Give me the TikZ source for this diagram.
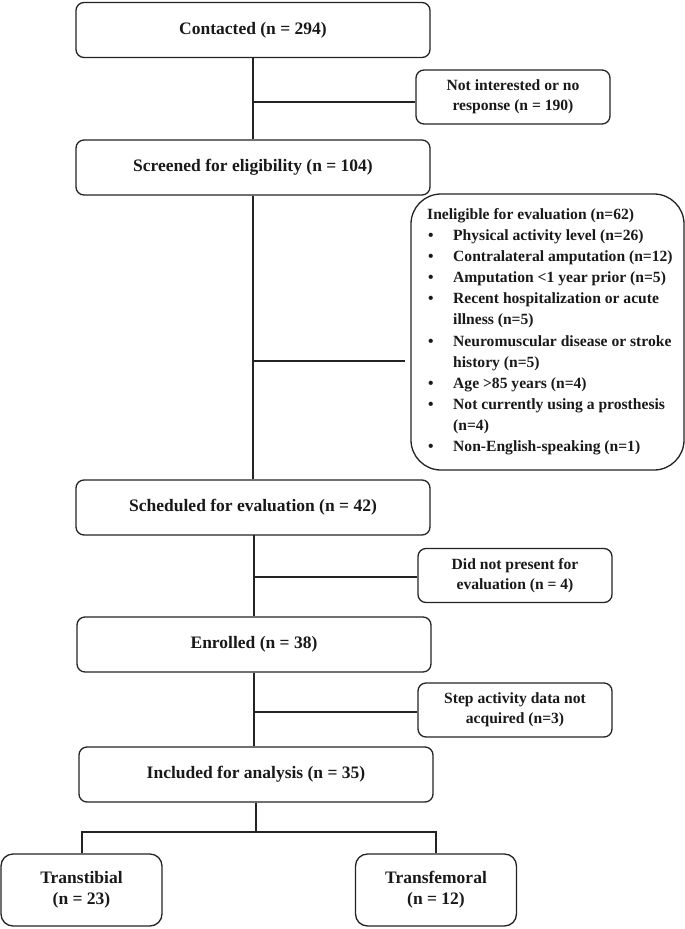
\documentclass[tikz,border=0pt]{standalone}
\usepackage{fontspec}
\setmainfont{Liberation Serif}
\definecolor{ln}{RGB}{35,35,35}
\definecolor{txt}{RGB}{25,25,25}
\newcommand{\bul}{\makebox[26bp][l]{\hspace{1bp}\textbullet}}
\newcommand{\ind}{\hspace*{26bp}}
\begin{document}
\begin{tikzpicture}[x=1bp,y=-1bp,
  every node/.style={text=txt},
  bigfont/.style={font=\fontsize{17.5bp}{21bp}\selectfont\bfseries},
  smallfont/.style={font=\fontsize{15.6bp}{20bp}\selectfont\bfseries},
  box/.style={draw=ln, line width=1.3bp, rounded corners=8bp, align=center, inner sep=0pt},
  mainbox/.style={box, bigfont, minimum width=354bp, minimum height=55bp},
  sidebox/.style={box, smallfont, minimum width=194bp, minimum height=54bp},
  endbox/.style={box, bigfont, rounded corners=12bp, minimum width=161bp, minimum height=72bp},
  conn/.style={draw=ln, line width=2bp}]
\useasboundingbox (0,0) rectangle (685,929);

% main column
\node[mainbox] (contacted) at (253,30) {Contacted (n = 294)};
\node[mainbox] (screened) at (253,167.5) {Screened for eligibility (n = 104)};
\node[mainbox] (scheduled) at (253,507.5) {Scheduled for evaluation (n = 42)};
\node[mainbox] (enrolled) at (254,644.5) {Enrolled (n = 38)};
\node[mainbox] (included) at (256,774.5) {Included for analysis (n = 35)};

% side boxes
\node[sidebox] (notint) at (513,97) {Not interested or no\\response (n = 190)};
\node[sidebox] (nopresent) at (515,575.5) {Did not present for\\evaluation (n = 4)};
\node[sidebox] (nodata) at (515,710) {Step activity data not\\acquired (n=3)};

\node[box, rounded corners=30bp, minimum width=273bp, minimum height=276bp] (inelig) at (547.5,332) {};
\node[font=\fontsize{15.6bp}{21.15bp}\selectfont\bfseries, align=left, anchor=north west, inner sep=0pt] (ineligtext) at (427,208)
{Ineligible for evaluation (n=62)\\
\bul Physical activity level (n=26)\\
\bul Contralateral amputation (n=12)\\
\bul Amputation <1 year prior (n=5)\\
\bul Recent hospitalization or acute\\
\ind illness (n=5)\\
\bul Neuromuscular disease or stroke\\
\ind history (n=5)\\
\bul Age >85 years (n=4)\\
\bul Not currently using a prosthesis\\
\ind (n=4)\\
\bul Non-English-speaking (n=1)};

% end boxes
\node[endbox] (tt) at (81.5,890) {Transtibial\\(n = 23)};
\node[endbox] (tf) at (436,890) {Transfemoral\\(n = 12)};

% junctions
\coordinate (j1) at (253,102);
\coordinate (j2) at (253,361);
\coordinate (j3) at (253,577);
\coordinate (j4) at (254,712);
\coordinate (split) at (256,832);

% connectors
\draw[conn] (contacted.south) -- (screened.north);
\draw[conn] (screened.south) -- (scheduled.north);
\draw[conn] (scheduled.south) -- (enrolled.south |- scheduled.south) -- (enrolled.north);
\draw[conn] (enrolled.south) -- (enrolled.south |- included.north);
\draw[conn] (j1) -- (notint.west |- j1);
\draw[conn, shorten >=5bp] (j2) -- (inelig.west |- j2);
\draw[conn] (j3) -- (nopresent.west |- j3);
\draw[conn] (j4) -- (nodata.west |- j4);
\draw[conn] (included.south) -- (split);
\draw[conn] (tt.north) -- (tt.north |- split) -- (tf.north |- split) -- (tf.north);
\end{tikzpicture}
\end{document}
